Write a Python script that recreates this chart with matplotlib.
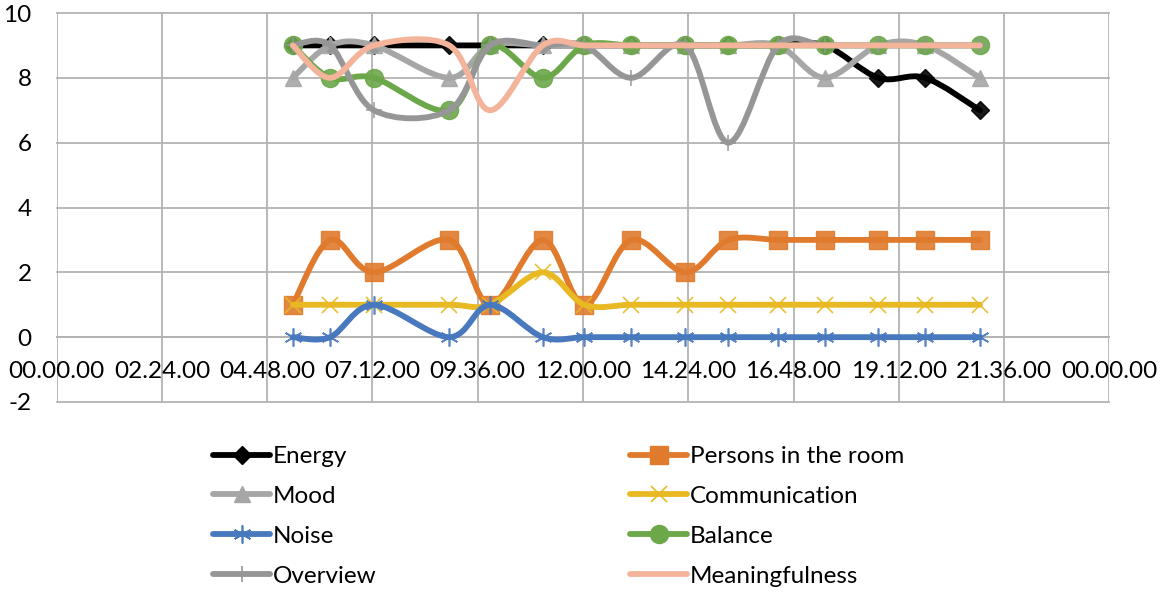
import numpy as np
import matplotlib
matplotlib.use('Agg')
import matplotlib.pyplot as plt
from matplotlib.path import Path
from matplotlib.patches import PathPatch
from matplotlib.lines import Line2D

# measurement times (hh:mm) and scores
times = ['05:23', '06:14', '07:14', '08:57', '09:53', '11:05', '12:02', '13:06',
         '14:20', '15:19', '16:27', '17:31', '18:44', '19:48', '21:03']
energy = [9, 9, 9, 9, 9, 9, 9, 9, 9, 9, 9, 9, 8, 8, 7]
persons = [1, 3, 2, 3, 1, 3, 1, 3, 2, 3, 3, 3, 3, 3, 3]
mood = [8, 9, 9, 8, 9, 9, 9, 9, 9, 9, 9, 8, 9, 9, 8]
communication = [1, 1, 1, 1, 1, 2, 1, 1, 1, 1, 1, 1, 1, 1, 1]
noise = [0, 0, 1, 0, 1, 0, 0, 0, 0, 0, 0, 0, 0, 0, 0]
balance = [9, 8, 8, 7, 9, 8, 9, 9, 9, 9, 9, 9, 9, 9, 9]
overview = [9, 9, 7, 7, 9, 9, 9, 8, 9, 6, 9, 9, 9, 9, 9]
meaningfulness = [9, 8, 9, 9, 7, 9, 9, 9, 9, 9, 9, 9, 9, 9, 9]

x_ticklabels = ['00.00.00', '02.24.00', '04.48.00', '07.12.00', '09.36.00', '12.00.00',
                '14.24.00', '16.48.00', '19.12.00', '21.36.00', '00.00.00']
y_ticks = [-2, 0, 2, 4, 6, 8, 10]


def day_frac(t):
    h, m = t.split(':')
    return (int(h) + int(m) / 60) / 24


def smooth_path(xs, ys):
    # excel-like smoothed line: bezier segments through every point
    pts = np.column_stack([xs, ys]).astype(float)
    n = len(pts)
    verts = [pts[0]]
    codes = [Path.MOVETO]
    for i in range(n - 1):
        p0 = pts[max(i - 1, 0)]
        p1 = pts[i]
        p2 = pts[i + 1]
        p3 = pts[min(i + 2, n - 1)]
        verts += [p1 + (p2 - p0) / 6, p2 - (p3 - p1) / 6, p2]
        codes += [Path.CURVE4] * 3
    return Path(verts, codes)


plt.rcParams['font.family'] = ['Lato', 'DejaVu Sans']
plt.rcParams['axes.unicode_minus'] = False

x = [day_frac(t) for t in times]
lw = 4.2

# label, values, colour, marker, marker size, marker edge width
series = [
    ('Energy', energy, '#000000', 'D', 9, 1),
    ('Persons in the room', persons, '#E07B2E', 's', 13, 1),
    ('Mood', mood, '#A6A6A6', '^', 12, 1),
    ('Communication', communication, '#E8B923', 'x', 12, 1.2),
    ('Noise', noise, '#4878BE', (6, 2, 0), 13, 1.2),
    ('Balance', balance, '#6CA74A', 'o', 13, 1),
    ('Overview', overview, '#969696', '+', 12, 1.2),
    ('Meaningfulness', meaningfulness, '#F4B49B', None, 0, 0),
]

fig = plt.figure(figsize=(11.72, 5.93), dpi=100)
ax = fig.add_axes([56.7 / 1172, 1 - 402 / 593, (1109.3 - 56.7) / 1172, (402 - 13) / 593])

handles = []
for k, (label, vals, color, marker, ms, mew) in enumerate(series):
    ax.add_patch(PathPatch(smooth_path(x, vals), fill=False, edgecolor=color, lw=lw,
                           capstyle='round', joinstyle='round', zorder=3 + 2 * k))
    if marker is not None:
        ax.plot(x, vals, ls='none', marker=marker, ms=ms, color=color, mec=color,
                mew=mew, alpha=0.9, zorder=4 + 2 * k)
    handles.append(Line2D([], [], color=color, lw=lw, marker=marker, ms=ms,
                          mec=color, mew=mew, solid_capstyle='round', label=label))

ax.set_xlim(0, 1)
ax.set_ylim(-2, 10)
ax.set_xticks(np.linspace(0, 1, 11))
ax.set_xticklabels(x_ticklabels)
ax.set_yticks(y_ticks)
ax.grid(True, color='#B3B3B3', lw=1.3)
for gl in ax.get_xgridlines() + ax.get_ygridlines():
    gl.set_clip_on(False)
ax.set_axisbelow(True)

for side in ['left', 'right', 'top']:
    ax.spines[side].set_visible(False)
ax.spines['bottom'].set_position(('data', 0))
ax.spines['bottom'].set_color('#B3B3B3')
ax.spines['bottom'].set_linewidth(1.3)
ax.tick_params(axis='both', length=0, labelsize=17.5, colors='black')
ax.tick_params(axis='x', pad=17)
ax.tick_params(axis='y', pad=18)

# legend: two columns below the plot
left_items = [handles[i] for i in (0, 2, 4, 6)]
right_items = [handles[i] for i in (1, 3, 5, 7)]
for items, xpos in [(left_items, 213 / 1172), (right_items, 630 / 1172)]:
    fig.legend(handles=items, loc='upper left', bbox_to_anchor=(xpos, 1 - 446 / 593),
               frameon=False, borderpad=0, borderaxespad=0, handlelength=2.35,
               handletextpad=0.1, labelspacing=0.78, fontsize=17.5, numpoints=1)

plt.savefig('out.png', dpi=100)
